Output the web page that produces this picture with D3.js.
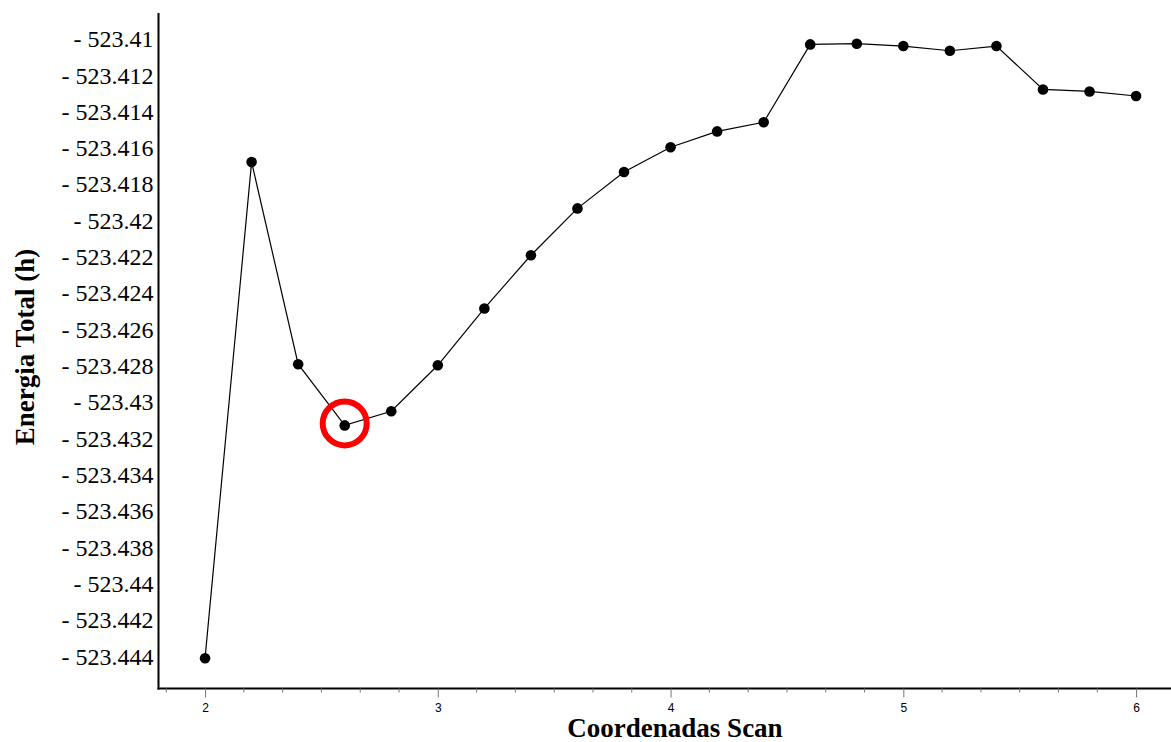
<!DOCTYPE html>
<html>
<head>
<meta charset="utf-8">
<script src="https://cdn.jsdelivr.net/npm/d3@7"></script>
<style>
  html, body { margin: 0; padding: 0; background: #fff; }
  svg { display: block; }
</style>
</head>
<body>
<svg id="chart" width="1171" height="742"></svg>
<script>
// Scan coordinate (x) and total energy in hartree (y)
const scanCoords = [2.0, 2.2, 2.4, 2.6, 2.8, 3.0, 3.2, 3.4, 3.6, 3.8, 4.0,
                    4.2, 4.4, 4.6, 4.8, 5.0, 5.2, 5.4, 5.6, 5.8, 6.0];
const totalEnergy = [-523.44403, -523.41671, -523.42784, -523.43121, -523.43043,
                     -523.42790, -523.42477, -523.42184, -523.41926, -523.41726,
                     -523.41589, -523.41502, -523.41452, -523.41023, -523.41019,
                     -523.41032, -523.41058, -523.41032, -523.41271, -523.41282,
                     -523.41307];

// Highlighted minimum point (index into the series)
const highlightIndex = 3;

const xTickValues = [2, 3, 4, 5, 6];
const xTickLabels = ["2", "3", "4", "5", "6"];
const yTickValues = [-523.410, -523.412, -523.414, -523.416, -523.418, -523.420,
                     -523.422, -523.424, -523.426, -523.428, -523.430, -523.432,
                     -523.434, -523.436, -523.438, -523.440, -523.442, -523.444];
const yTickLabels = ["- 523.41", "- 523.412", "- 523.414", "- 523.416", "- 523.418",
                     "- 523.42", "- 523.422", "- 523.424", "- 523.426", "- 523.428",
                     "- 523.43", "- 523.432", "- 523.434", "- 523.436", "- 523.438",
                     "- 523.44", "- 523.442", "- 523.444"];

const svg = d3.select("#chart");

const x = d3.scaleLinear().domain([1.8, 6.15]).range([158.5, 1171]);
const y = d3.scaleLinear().domain([-523.4085, -523.4457]).range([13, 688.5]);

// Minor ticks every sixth of a unit
const minorTicks = d3.range(-1, 26).map(i => 2 + i / 6)
  .filter(v => v >= x.domain()[0] && v <= x.domain()[1] && Math.abs(v - Math.round(v)) > 1e-6);

// X axis
const xAxisG = svg.append("g").attr("transform", `translate(0,${y.range()[1]})`);
xAxisG.append("line")
  .attr("x1", x.range()[0] - 1).attr("x2", x.range()[1])
  .attr("stroke", "#000").attr("stroke-width", 2);
xAxisG.selectAll("line.minor").data(minorTicks).join("line")
  .attr("class", "minor")
  .attr("x1", d => x(d)).attr("x2", d => x(d))
  .attr("y1", 0).attr("y2", 4)
  .attr("stroke", "#777").attr("stroke-width", 1);
xAxisG.call(
  d3.axisBottom(x).tickValues(xTickValues)
    .tickFormat((d, i) => xTickLabels[i])
    .tickSize(9).tickPadding(6)
).call(g => {
  g.select(".domain").remove();
  g.selectAll(".tick line").attr("stroke", "#777").attr("stroke-width", 1);
  g.selectAll(".tick text")
    .attr("font-family", "'Liberation Sans', Arial, sans-serif")
    .attr("font-size", 12).attr("fill", "#000");
});

// Y axis
const yAxisG = svg.append("g").attr("transform", `translate(${x.range()[0]},0)`);
yAxisG.call(
  d3.axisLeft(y).tickValues(yTickValues)
    .tickFormat((d, i) => yTickLabels[i])
    .tickSize(0).tickPadding(5)
).call(g => {
  g.select(".domain").remove();
  g.selectAll(".tick text")
    .attr("font-family", "'Liberation Serif', 'Times New Roman', serif")
    .attr("font-size", 24).attr("fill", "#000")
    .attr("dy", "0.27em");
});
yAxisG.append("line")
  .attr("y1", y.range()[0]).attr("y2", y.range()[1] + 1)
  .attr("stroke", "#000").attr("stroke-width", 2);

// Axis titles
svg.append("text")
  .attr("x", 675).attr("y", 737)
  .attr("text-anchor", "middle")
  .attr("font-family", "'Liberation Serif', 'Times New Roman', serif")
  .attr("font-weight", "bold").attr("font-size", 27)
  .text("Coordenadas Scan");

svg.append("text")
  .attr("transform", "translate(34,347) rotate(-90)")
  .attr("text-anchor", "middle")
  .attr("font-family", "'Liberation Serif', 'Times New Roman', serif")
  .attr("font-weight", "bold").attr("font-size", 27)
  .text("Energia Total (h)");

// Data line and points
const pts = scanCoords.map((c, i) => ({ x: c, y: totalEnergy[i] }));

svg.append("path")
  .datum(pts)
  .attr("fill", "none").attr("stroke", "#000").attr("stroke-width", 1.2)
  .attr("d", d3.line().x(d => x(d.x)).y(d => y(d.y)));

svg.selectAll("circle.pt").data(pts).join("circle")
  .attr("class", "pt")
  .attr("cx", d => x(d.x)).attr("cy", d => y(d.y))
  .attr("r", 5.3).attr("fill", "#000");

// Red ring around the minimum
const hp = pts[highlightIndex];
svg.append("circle")
  .attr("cx", x(hp.x)).attr("cy", y(hp.y) - 2)
  .attr("r", 22).attr("fill", "none")
  .attr("stroke", "#f00").attr("stroke-width", 6);
</script>
</body>
</html>
